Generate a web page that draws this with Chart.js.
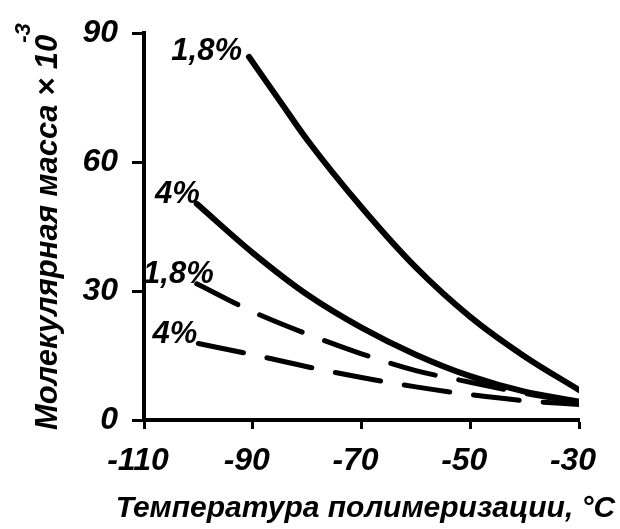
<!DOCTYPE html>
<html>
<head>
<meta charset="utf-8">
<script src="https://cdn.jsdelivr.net/npm/chart.js@4/dist/chart.umd.min.js"></script>
<style>
  html, body { margin: 0; padding: 0; background: #fff; }
  #wrap { width: 620px; height: 529px; }
</style>
</head>
<body>
<div id="wrap"><canvas id="mwChart" width="620" height="529"></canvas></div>
<script>
// Molecular mass vs polymerization temperature
const X_TICKS = [-110, -90, -70, -50, -30];
const Y_TICKS = [0, 30, 60, 90];

const solid18T = [-90.7, -85, -80, -70, -60, -50, -40, -30];
const solid18M = [84.5, 74.2, 65.2, 49.5, 35.5, 24.0, 14.8, 7.0];

const solid4T  = [-100.3, -90, -80, -70, -60, -50, -40, -30];
const solid4M  = [50.3, 38.9, 29.2, 21.5, 15.2, 10.2, 6.6, 4.3];

const dash18T  = [-100.3, -90, -80, -70, -60, -50, -40, -30];
const dash18M  = [31.7, 25.2, 20.0, 15.4, 11.5, 8.8, 6.2, 4.0];

const dash4T   = [-100, -90, -80, -70, -60, -50, -40, -30];
const dash4M   = [17.8, 15.2, 12.4, 9.9, 7.7, 5.9, 4.5, 3.6];

const SERIES_LABELS = ['1,8%', '4%', '1,8%', '4%'];
const Y_TITLE = 'Молекулярная масса × 10';
const Y_TITLE_EXP = '-3';
const X_TITLE = 'Температура полимеризации, °C';

const FONT = "'Liberation Sans', Arial, sans-serif";

const pts = (xs, ys) => xs.map((x, i) => ({ x, y: ys[i] }));

// curve labels placed next to the first point of each line
const LABEL_OFFSETS = [[-7, 3], [3, -1], [17, -1], [-1, 0]];
const curveLabels = {
  id: 'curveLabels',
  afterDatasetsDraw(chart) {
    const { ctx, scales: { x, y } } = chart;
    ctx.save();
    ctx.font = `italic bold 31px ${FONT}`;
    ctx.fillStyle = '#000';
    ctx.textAlign = 'right';
    ctx.textBaseline = 'alphabetic';
    chart.data.datasets.forEach((ds, i) => {
      const p = ds.data[0];
      const [dx, dy] = LABEL_OFFSETS[i];
      ctx.fillText(SERIES_LABELS[i], x.getPixelForValue(p.x) + dx, y.getPixelForValue(p.y) + dy);
    });
    ctx.restore();
  }
};

// axis titles: rotated y title with raised exponent, x title under the ticks
const axisTitles = {
  id: 'axisTitles',
  afterDraw(chart) {
    const { ctx, chartArea } = chart;
    ctx.save();
    ctx.fillStyle = '#000';
    ctx.textBaseline = 'alphabetic';

    ctx.font = `italic bold 30px ${FONT}`;
    ctx.textAlign = 'center';
    ctx.fillText(X_TITLE, (chartArea.left + chartArea.right) / 2 + 4, 517);

    ctx.translate(57, chartArea.bottom + 10);
    ctx.rotate(-Math.PI / 2);
    ctx.font = `italic bold 31px ${FONT}`;
    ctx.textAlign = 'left';
    ctx.fillText(Y_TITLE, 0, 0);
    const w = ctx.measureText(Y_TITLE).width;
    ctx.font = `italic bold 22px ${FONT}`;
    ctx.fillText(Y_TITLE_EXP, w - 8, -27);
    ctx.restore();
  }
};

const lineDs = (data, dash) => ({
  data,
  showLine: true,
  borderColor: '#000',
  borderWidth: dash ? 5 : 6,
  borderDash: dash ? [46, 24] : [],
  borderCapStyle: 'round',
  pointRadius: 0,
  cubicInterpolationMode: 'monotone',
  fill: false,
});

const tickFont = { family: FONT, size: 32, style: 'italic', weight: 'bold' };

new Chart(document.getElementById('mwChart'), {
  type: 'scatter',
  data: {
    datasets: [
      lineDs(pts(solid18T, solid18M), false),
      lineDs(pts(solid4T, solid4M), false),
      lineDs(pts(dash18T, dash18M), true),
      lineDs(pts(dash4T, dash4M), true),
    ],
  },
  options: {
    responsive: false,
    animation: false,
    layout: { padding: { top: 32, right: 41, left: 0, bottom: 0 } },
    plugins: { legend: { display: false }, tooltip: { enabled: false } },
    scales: {
      x: {
        type: 'linear', min: -110, max: -30,
        afterBuildTicks: s => { s.ticks = X_TICKS.map(v => ({ value: v })); },
        afterFit: s => { s.height = 109; },
        border: { display: true, color: '#000', width: 4 },
        grid: { drawOnChartArea: false, drawTicks: true, tickLength: 9, tickWidth: 3, tickColor: '#000' },
        ticks: { color: '#000', padding: 13, labelOffset: -6, font: tickFont },
      },
      y: {
        type: 'linear', min: 0, max: 90,
        afterBuildTicks: s => { s.ticks = Y_TICKS.map(v => ({ value: v })); },
        afterFit: s => { s.width = 144; },
        border: { display: true, color: '#000', width: 4 },
        grid: { drawOnChartArea: false, drawTicks: true, tickLength: 12, tickWidth: 3, tickColor: '#000' },
        ticks: { color: '#000', padding: 14, font: tickFont },
      },
    },
  },
  plugins: [curveLabels, axisTitles],
});
</script>
</body>
</html>
